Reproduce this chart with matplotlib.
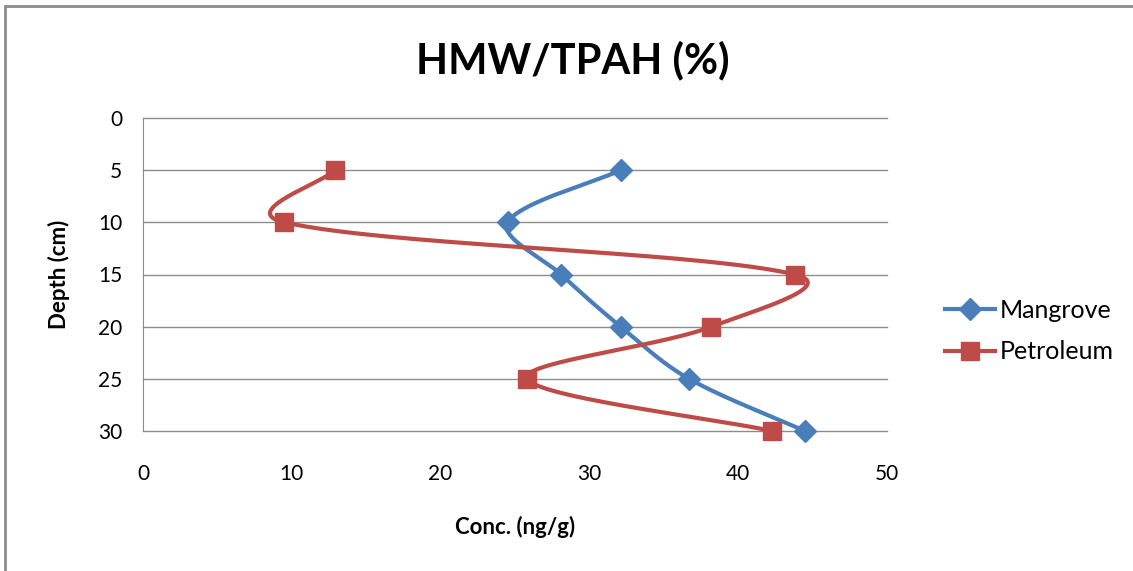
"""HMW/TPAH (%) depth profile — Mangrove vs Petroleum."""
import matplotlib
matplotlib.use("Agg")
import matplotlib.pyplot as plt
import numpy as np
from matplotlib.patches import Rectangle

plt.rcParams["font.family"] = ["Lato", "DejaVu Sans"]

depth = [5, 10, 15, 20, 25, 30]
mangrove = [32.1, 24.5, 28.1, 32.1, 36.7, 44.5]
petroleum = [12.9, 9.5, 43.8, 38.2, 25.8, 42.3]

BLUE = "#4A7EBB"
RED = "#BE4B48"
GRID = "#8C8C8C"


def smooth(ax, x, y, n=60, mix=0.5):
    """Excel-like smoothed line: Bezier segments, tangents partly weighted by chord length."""
    pts = ax.transData.transform(np.column_stack([x, y]).astype(float))
    m = len(pts)
    out = []
    t = np.linspace(0, 1, n)[:, None]

    def ctrl(i, forward):
        p0 = pts[max(i - 1, 0)]
        p1 = pts[i]
        p2 = pts[min(i + 1, m - 1)]
        d0 = np.linalg.norm(p1 - p0)
        d1 = np.linalg.norm(p2 - p1)
        tan = p2 - p0
        w = (d1 if forward else d0) / (d0 + d1) / 3
        k = mix * w + (1 - mix) / 6
        return p1 + tan * k if forward else p1 - tan * k

    for i in range(m - 1):
        p1, p2 = pts[i], pts[i + 1]
        c1 = ctrl(i, True)
        c2 = ctrl(i + 1, False)
        seg = (1 - t) ** 3 * p1 + 3 * (1 - t) ** 2 * t * c1 + 3 * (1 - t) * t ** 2 * c2 + t ** 3 * p2
        out.append(seg)
    out = ax.transData.inverted().transform(np.vstack(out))
    return out[:, 0], out[:, 1]


fig = plt.figure(figsize=(11.33, 5.71), dpi=100)
ax = fig.add_axes([143 / 1133, 1 - 431 / 571, 744 / 1133, 313 / 571])
ax.set_xlim(0, 50)
ax.set_ylim(30, 0)

for vals, color, marker, ms, name in [
    (mangrove, BLUE, "D", 11, "Mangrove"),
    (petroleum, RED, "s", 13, "Petroleum"),
]:
    sx, sy = smooth(ax, vals, depth)
    ax.plot(sx, sy, color=color, lw=3, zorder=3, clip_on=False)
    ax.plot(vals, depth, color=color, marker=marker, ms=ms, lw=0, zorder=4, clip_on=False)
    ax.plot([], [], color=color, lw=3, marker=marker, ms=ms, label=name)

ax.set_xticks(range(0, 51, 10))
ax.set_yticks(range(0, 31, 5))
ax.grid(axis="y", color=GRID, lw=1)
for gl in ax.get_ygridlines():
    gl.set_clip_on(False)
ax.set_axisbelow(True)
for s in ["top", "right", "bottom"]:
    ax.spines[s].set_visible(False)
ax.spines["left"].set_color(GRID)
ax.tick_params(length=0, labelsize=15, colors="#000000")
ax.tick_params(axis="y", pad=15)
ax.tick_params(axis="x", pad=24)

ax.set_xlabel("Conc. (ng/g)", fontsize=16, fontweight="bold", labelpad=23)
ax.set_ylabel("Depth (cm)", fontsize=16, fontweight="bold", labelpad=20)
fig.text(573 / 1133, 1 - 60 / 571, "HMW/TPAH (%)", fontsize=30, fontweight="bold",
         ha="center", va="center")

ax.legend(loc="center left", bbox_to_anchor=(932 / 1133, 1 - 331 / 571),
          bbox_transform=fig.transFigure, frameon=False, fontsize=18,
          handlelength=2.0, handletextpad=0.2, labelspacing=0.75, borderpad=0)

fig.patches.append(Rectangle((5 / 1133, -0.1), 1.2, 1.1 - 6 / 571, transform=fig.transFigure,
                             fill=False, edgecolor="#8C8C8C", lw=2))

fig.savefig("out.png", dpi=100)
